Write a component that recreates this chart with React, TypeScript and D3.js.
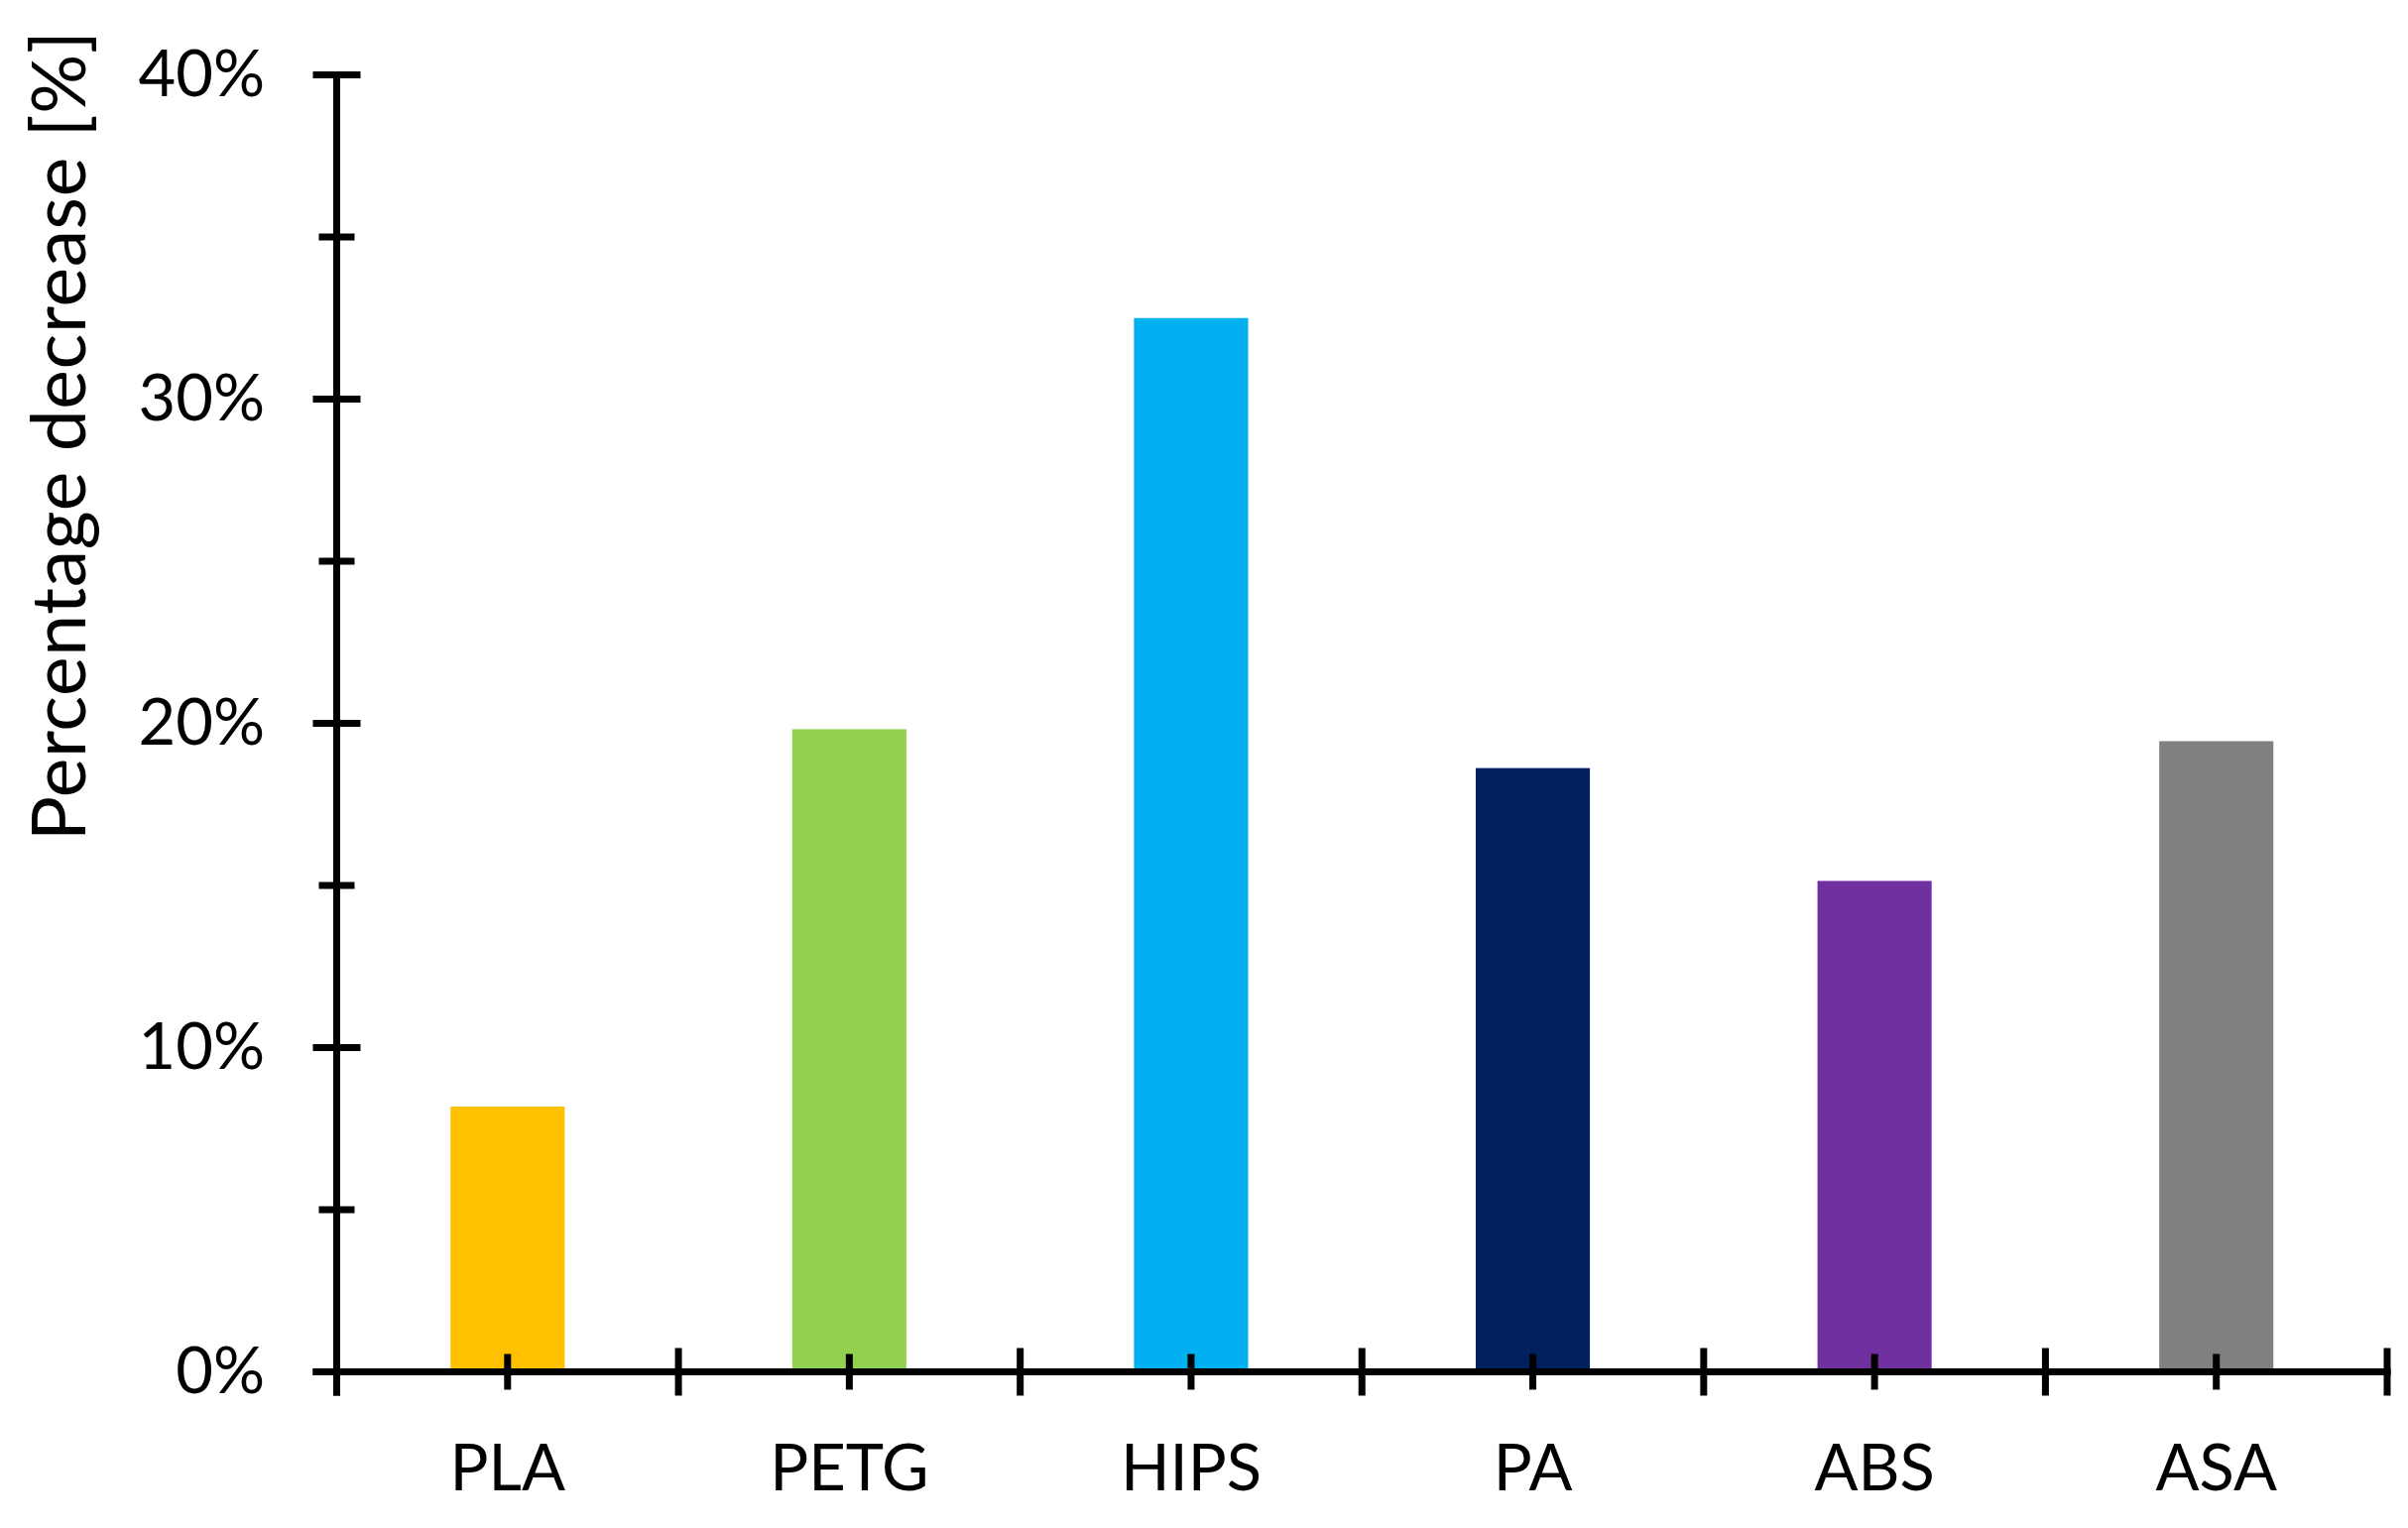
import React from "react";
import * as d3 from "d3";

const categories = ["PLA", "PETG", "HIPS", "PA", "ABS", "ASA"];
const values = [8.18, 19.82, 32.5, 18.62, 15.14, 19.45];
const colors = ["#FFC000", "#92D050", "#00B0F0", "#002060", "#7030A0", "#808080"];
const majorTicks = [0, 10, 20, 30, 40];
const minorTicks = [5, 15, 25, 35];
const yTitle = "Percentage decrease [%]";

const W = 2428;
const H = 1541;
const FONT = "Lato, 'Open Sans', sans-serif";

export default function App() {
  const x0 = 339.5;
  const x1 = 2407;
  const y = d3.scaleLinear().domain([0, 40]).range([1383.5, 75.5]);
  const x = d3.scaleBand<string>().domain(categories).range([x0, x1]).padding(0);
  const step = x.step();
  const barW = step * 0.334;
  const sw = 7;
  const boundaries = d3.range(categories.length + 1).map((i) => x0 + i * step);

  return (
    <svg
      width={W}
      height={H}
      style={{ position: "absolute", left: 0, top: 0, background: "#fff" }}
      fontFamily={FONT}
    >
      <rect x={0} y={0} width={W} height={H} fill="#fff" />
      {categories.map((c, i) => (
        <rect
          key={c}
          x={(x(c) as number) + (step - barW) / 2}
          y={y(values[i])}
          width={barW}
          height={y(0) - y(values[i])}
          fill={colors[i]}
        />
      ))}
      {/* y axis */}
      <line x1={x0} x2={x0} y1={y(40) - sw / 2} y2={y(0) + 24} stroke="#000" strokeWidth={sw} />
      {majorTicks.map((t) => (
        <line key={"M" + t} x1={x0 - 24} x2={x0 + 24} y1={y(t)} y2={y(t)} stroke="#000" strokeWidth={sw} />
      ))}
      {minorTicks.map((t) => (
        <line key={"m" + t} x1={x0 - 18} x2={x0 + 18} y1={y(t)} y2={y(t)} stroke="#000" strokeWidth={sw} />
      ))}
      {majorTicks.map((t) => (
        <text
          key={"L" + t}
          x={267}
          y={y(t)}
          dy="0.33em"
          textAnchor="end"
          fontSize={65}
          fill="#000"
        >
          {t + "%"}
        </text>
      ))}
      {/* x axis */}
      <line x1={x0 - 24} x2={x1 + sw / 2} y1={y(0)} y2={y(0)} stroke="#000" strokeWidth={sw} />
      {boundaries.map((b, i) => (
        <line key={"b" + i} x1={b} x2={b} y1={y(0) - 24} y2={y(0) + 24} stroke="#000" strokeWidth={sw} />
      ))}
      {categories.map((c) => (
        <line
          key={"c" + c}
          x1={(x(c) as number) + step / 2}
          x2={(x(c) as number) + step / 2}
          y1={y(0) - 18}
          y2={y(0) + 18}
          stroke="#000"
          strokeWidth={sw}
        />
      ))}
      {categories.map((c) => (
        <text
          key={"t" + c}
          x={(x(c) as number) + step / 2}
          y={1503}
          textAnchor="middle"
          fontSize={65}
          fill="#000"
        >
          {c}
        </text>
      ))}
      <text
        transform={`translate(86, 848) rotate(-90)`}
        x={0}
        y={0}
        textAnchor="start"
        fontSize={75}
        textLength={817}
        lengthAdjust="spacing"
        fill="#000"
      >
        {yTitle}
      </text>
    </svg>
  );
}
